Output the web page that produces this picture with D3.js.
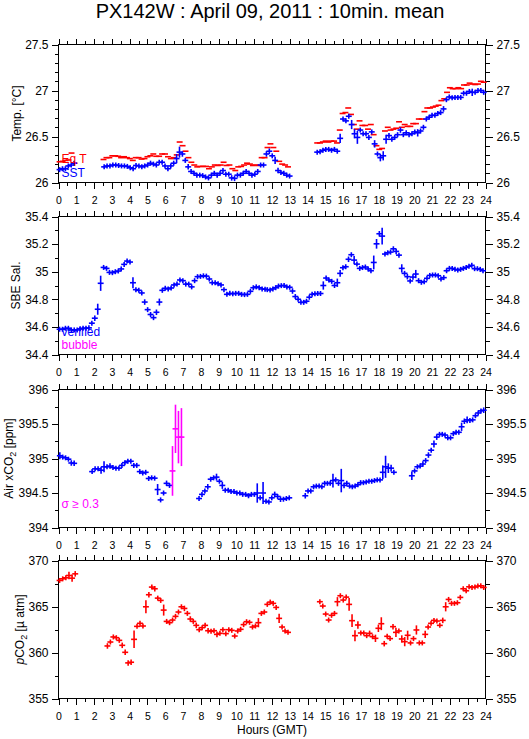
<!DOCTYPE html>
<html><head><meta charset="utf-8">
<script src="https://cdn.jsdelivr.net/npm/d3@7/dist/d3.min.js"></script>
<style>
body{margin:0;background:#fff}
svg{display:block}
text{font-family:"Liberation Sans",Arial,Helvetica,sans-serif}
</style>
</head><body>
<svg id="chart" width="529" height="739"></svg>
<script>
// ---------- tick labels ----------
const hourTicks = d3.range(0, 25, 1);
const halfHourTicks = d3.range(0.5, 24, 1);
const tempTicks = [26, 26.5, 27, 27.5];
const salTicks = [34.4, 34.6, 34.8, 35, 35.2, 35.4];
const airTicks = [394, 394.5, 395, 395.5, 396];
const pco2Ticks = [355, 360, 365, 370];

// ---------- data (10 min means); a point is value or [value, sigma] ----------
const sstA = [26.14, 26.15, 26.15, 26.18, 26.19, 26.21];
const sstB = [26.17,26.18,26.18,26.19,26.19,26.185,26.18,26.18,26.175,26.16,
 26.15,26.185,26.18,26.17,26.18,26.19,26.21,26.20,26.19,26.22,
 26.22,26.18,26.15,26.18,26.21,[26.26,.05],[26.33,.06],[26.31,.03],26.24,[26.17,.03],
 26.12,26.10,26.08,26.08,26.075,26.06,26.05,26.08,26.10,26.08,
 26.10,26.13,26.09,26.09,[26.05,.03],[26.045,.03],26.08,26.08,26.10,26.12,
 26.10,26.08,26.09,26.12,26.19,26.19,
 [26.31,.03],[26.34,.03],26.29,[26.24,.04],[26.13,.03],26.11,26.10,26.08,26.07];
const sstC = [26.33,26.335,26.35,26.36,26.36,26.35,26.36,26.34,[26.48,.05],26.69,
 26.67,26.72,[26.63,.05],[26.53,.05],[26.49,.07],26.57,26.53,26.53,26.49,26.55,
 [26.42,.04],26.31,[26.27,.04],[26.29,.05],[26.47,.05],26.51,26.47,26.49,26.52,[26.57,.03],
 26.52,26.54,26.52,26.53,26.55,[26.54,.04],26.56,26.60,26.69,26.71,
 26.73,26.73,26.75,26.76,[26.80,.03],26.90,26.93,26.92,26.925,26.925,
 26.925,26.97,26.97,26.99,[26.98,.04],26.98,27.00,27.00,26.98];
const sstSpans = [[0.06, 0.88], [2.566, 12.99], [14.54, 23.9]];

const eqA = [26.225, 26.23, 26.24, 26.245, 26.32, 26.21];
const eqB = [26.25,26.27,26.27,26.29,26.29,26.285,26.27,26.28,26.27,26.26,
 26.24,26.27,26.27,26.255,26.26,26.28,26.29,26.31,26.285,26.285,
 26.31,26.31,26.28,26.26,26.27,26.30,26.44,26.40,26.34,26.27,
 26.22,26.19,26.17,26.175,26.175,26.175,26.15,26.17,26.19,26.185,
 26.19,26.22,26.185,26.19,26.15,26.13,26.17,26.175,26.19,26.21,
 26.20,26.185,26.19,26.185,26.27,26.27,26.38,26.42,
 26.38,26.34,26.23,26.20,26.19,26.17];
const eqC = [26.43,26.43,26.44,26.45,26.44,26.45,26.45,26.43,26.57,26.75,
 26.76,26.81,26.74,26.63,26.58,26.67,26.62,26.62,26.58,26.63,
 26.52,26.40,26.36,26.37,26.56,26.60,26.57,26.58,26.59,26.66,
 26.60,26.63,26.61,26.61,26.64,26.64,26.69,26.69,26.77,26.81,
 26.81,26.82,26.83,26.84,26.89,26.91,26.98,27.03,27.02,27.02,
 27.03,27.02,27.06,27.06,27.08,27.07,27.065,27.07,27.10,27.09];
const eqSpans = [[0.06, 0.9], [2.53, 12.9], [14.54, 23.9]];

const salA = [34.583,34.583,34.59,34.59,34.578,34.578,34.578,34.586,34.59,34.59,
 34.593,[34.627,.015],[34.663,.02],[34.728,.04],[34.916,.055],[35.031,.015],35.024,34.995,34.993,35.0,
 35.005,35.02,35.053,35.077,35.07,[34.92,.04],34.87,34.865,34.846,[34.78,.02],
 [34.725,.015],34.69,34.667,[34.706,.02],[34.78,.025],34.865,34.88,34.875,34.882,34.904,
 34.91,34.94,34.935,34.91,34.91,34.89,[34.935,.015],34.964,34.966,34.97,
 34.968,34.947,34.92,34.92,34.913,34.904,34.87,34.836,34.843,34.84,
 34.843,34.843,34.836,34.834,34.836,34.858,34.884,34.89,34.884,34.875,34.873];
const salB = [34.87,34.868,34.875,34.884,34.896,34.899,34.9,34.89,34.887,[34.86,.02],
 34.82,34.80,34.778,34.778,34.786,34.815,34.836,34.84,34.842,34.842,
 [34.9,.03],34.954,34.94,34.93,34.9,[34.92,.03],[34.988,.025],35.029,35.036,[35.09,.02],
 35.123,[35.084,.03],35.055,35.024,35.03,35.034,35.02,35.007,[35.067,.05],[35.202,.035],
 [35.275,.02],[35.258,.06],35.128,35.137,35.142,35.166,[35.147,.02],35.12,[35.024,.03],34.988,
 [34.964,.02],34.933,[34.961,.02],[34.983,.03],34.935,34.923,34.928,34.952,34.973,34.976,
 34.976,34.971,[34.947,.015],[34.957,.015],35.007,35.024,35.024,35.017,35.012,35.017,
 35.024,35.031,35.039,35.046,35.022,35.022,35.017,35.007];
const salSpans = [[0.06, 11.61], [11.735, 23.86]];

const airA = [[395.04,.05],395.02,395.01,394.99,[394.935,.04],[394.93,.04]];
const airB = [394.81,394.85,394.85,[394.83,.05],[394.88,.08],394.88,[394.89,.04],394.87,394.86,394.86,
 394.9,394.94,[394.96,.03],394.96,394.9,394.9,394.81,394.79,394.80,394.71,
 394.72,394.715,[394.55,.08],[394.40,.03],394.50,[394.64,.04],394.61,[394.82,.36],[395.43,.35],[395.31,.38],[395.31,.42]];
const airC = [394.42,394.48,394.53,[394.59,.04],394.70,394.72,[394.73,.05],394.67,[394.61,.05],394.54,
 394.54,394.52,394.52,394.50,394.50,394.48,394.48,394.46,394.48,394.48,
 [394.50,.14],394.43,[394.50,.16],394.38,394.37,394.43,[394.48,.04],394.45,[394.41,.04],394.41,394.42,394.43];
const airD = [[394.46,.04],394.53,394.53,394.59,394.60,394.60,394.59,394.64,394.64,394.64,
 [394.68,.1],394.69,394.64,[394.68,.17],[394.61,.04],394.64,394.60,394.59,394.60,394.62,
 394.65,394.65,394.66,394.67,394.67,394.68,394.69,394.69,[394.80,.1],[394.88,.16],
 [394.86,.07],[394.86,.05],394.80];
const airE = [[394.75,.06],394.82,394.88,394.89,[394.92,.04],394.97,[395.05,.04],395.12,[395.21,.05],[395.31,.04],
 395.35,395.35,395.34,395.30,395.30,395.36,395.38,395.38,[395.46,.06],[395.54,.04],
 [395.56,.05],395.55,395.56,395.62,395.66,395.69,[395.70,.04]];
const airSpans = [[0.075, 0.88], [1.89, 6.91], [7.9, 12.97], [13.87, 18.85], [19.86, 23.9]];

const pA = [367.83, 368.01, 368.12, [368.37,.4], [368.08,.4], [368.55,.3]];
const pB = [[360.71,.3],361.14,361.69,361.61,361.32,[360.78,.3],[360.02,.3],[358.87,.3],[358.94,.3],[361.43,.95],
 362.84,363.17,362.88,[364.97,.7],[366.28,.3],367.11,[366.93,.3],365.91,365.66,[364.61,.6],
 363.38,363.24,363.53,363.93,364.40,364.97,[364.79,.3],364.25,[363.64,.3],363.38,
 [362.95,.3],362.48,362.70,362.95,[362.37,.3],362.30,362.37,[361.97,.3],362.08,362.48,
 362.05,362.48,362.41,361.79,362.34,362.52,363.03,363.35,363.28,362.77,
 362.88,[363.24,.5],364.25,364.40,365.23,
 365.48,365.34,364.90,[363.71,.5],362.77,362.34,362.19];
const pC = [365.52,365.05,364.18,363.53,364.04,364.25,[365.52,.5],366.17,365.70,366.02,
 [365.23,.7],[363.46,.7],[361.83,.6],[362.99,.4],362.12,362.12,361.83,[362.08,.3],361.72,[361.54,.4],
 [362.63,.4],[363.13,.7],[360.96,.3],361.76,361.51,[362.81,.3],[362.19,.5],362.34,[361.47,.4],[361.18,.5],
 [361.87,.5],361.04,361.51,[362.45,.5],361.04,361.04,[361.97,.4],362.77,363.17,363.49,
 363.42,362.95,[363.49,.3],[364.97,.5],365.77,365.34,365.34,365.41,365.99,366.93,
 366.71,367.14,367.07,367.11,367.22,367.25,367.07];
const pSpans = [[0.06, 0.94], [2.75, 12.9], [14.69, 23.9]];

// ---------- layout ----------
const svg = d3.select("#chart");
const X0 = 58.5, X1 = 485.5;
const x = d3.scaleLinear().domain([0, 24]).range([X0, X1]);
const BLUE = "#0000ff", RED = "#ff0000", MAG = "#ff00ff";
const HW = 1 / 6;
const MINH = 2.5;

svg.append("text").attr("x", 270).attr("y", 17.5).attr("text-anchor", "middle")
  .attr("font-size", 20).text("PX142W : April 09, 2011 : 10min. mean");

function fmt(v) { return String(+v.toFixed(2)); }

function panel(top, bottom, domain, major, minorStep) {
  const y = d3.scaleLinear().domain(domain).range([bottom, top]);
  const g = svg.append("g");
  const minor = d3.range(domain[0], domain[1] + 1e-9, minorStep).filter(v => !major.some(m => Math.abs(m - v) < 1e-6));
  const xb = g.append("g").attr("transform", `translate(0,${bottom})`)
    .call(d3.axisBottom(x).tickValues(hourTicks).tickSize(6).tickPadding(8.2).tickSizeOuter(0).tickFormat(d3.format("d")));
  xb.selectAll("text").attr("font-size", 10.5).attr("font-family", "Liberation Sans, Arial, sans-serif");
  g.append("g").attr("transform", `translate(0,${bottom})`)
    .call(d3.axisBottom(x).tickValues(halfHourTicks).tickSize(3.5).tickSizeOuter(0).tickFormat(""));
  g.append("g").attr("transform", `translate(0,${top})`)
    .call(d3.axisTop(x).tickValues(hourTicks).tickSize(6).tickSizeOuter(0).tickFormat(""));
  g.append("g").attr("transform", `translate(0,${top})`)
    .call(d3.axisTop(x).tickValues(halfHourTicks).tickSize(3.5).tickSizeOuter(0).tickFormat(""));
  const yl = g.append("g").attr("transform", `translate(${X0},0)`)
    .call(d3.axisLeft(y).tickValues(major).tickSize(7).tickPadding(3).tickSizeOuter(0).tickFormat(fmt));
  g.append("g").attr("transform", `translate(${X0},0)`)
    .call(d3.axisLeft(y).tickValues(minor).tickSize(4).tickSizeOuter(0).tickFormat(""));
  const yr = g.append("g").attr("transform", `translate(${X1},0)`)
    .call(d3.axisRight(y).tickValues(major).tickSize(7).tickPadding(4).tickSizeOuter(0).tickFormat(fmt));
  g.append("g").attr("transform", `translate(${X1},0)`)
    .call(d3.axisRight(y).tickValues(minor).tickSize(4).tickSizeOuter(0).tickFormat(""));
  [yl, yr].forEach(a => a.selectAll("text").attr("font-size", 12).attr("font-family", "Liberation Sans, Arial, sans-serif"));
  g.selectAll(".domain").remove();
  g.selectAll(".tick line").attr("stroke", "#000").attr("shape-rendering", "crispEdges");
  g.selectAll(".tick text").attr("fill", "#000");
  g.append("rect").attr("x", X0).attr("y", top).attr("width", X1 - X0).attr("height", bottom - top)
    .attr("fill", "none").attr("stroke", "#000").attr("shape-rendering", "crispEdges");
  return { y, g, top, bottom };
}

function points(segs, spans) {
  const out = [];
  segs.forEach((vals, k) => {
    const [t0, t1] = spans[k];
    const n = vals.length;
    vals.forEach((p, i) => {
      const v = Array.isArray(p) ? p[0] : p;
      const s = Array.isArray(p) ? p[1] : 0;
      out.push({ t: n > 1 ? t0 + (t1 - t0) * i / (n - 1) : t0, v, s });
    });
  });
  return out;
}

function drawCrosses(P, pts, colorFn, dashOnly) {
  const g = P.g.append("g").attr("stroke-width", 1.6);
  pts.forEach(d => {
    const c = colorFn(d);
    g.append("line").attr("x1", x(d.t - HW)).attr("x2", x(d.t + HW))
      .attr("y1", P.y(d.v)).attr("y2", P.y(d.v)).attr("stroke", c);
    if (!dashOnly) {
      const h = Math.max(MINH, Math.abs(P.y(d.v) - P.y(d.v + d.s)));
      g.append("line").attr("x1", x(d.t)).attr("x2", x(d.t))
        .attr("y1", P.y(d.v) - h).attr("y2", P.y(d.v) + h).attr("stroke", c);
    }
  });
}

function yTitle(P, xb, parts) {
  const g = svg.append("g").attr("transform", `translate(${xb},${(P.top + P.bottom) / 2}) rotate(-90)`);
  const t = g.append("text").attr("font-size", 12).attr("x", 0).attr("y", 0).attr("text-anchor", "middle");
  parts.forEach(p => {
    const s = t.append("tspan").text(p.t);
    if (p.sub) s.attr("font-size", 9).attr("baseline-shift", "-3");
    if (p.it) s.attr("font-style", "italic");
  });
}

function legend(xp, yp, txt, color) {
  svg.append("text").attr("x", xp).attr("y", yp).attr("font-size", 12).attr("fill", color).text(txt);
}

const P1 = panel(44.5, 182.5, [26, 27.5], tempTicks, 0.1);
drawCrosses(P1, points([eqA, eqB, eqC], eqSpans), () => RED, true);
drawCrosses(P1, points([sstA, sstB, sstC], sstSpans), () => BLUE, false);
yTitle(P1, 20.5, [{ t: "Temp. [°C]" }]);
legend(61.5, 163, "Eq  T", RED);
legend(61.5, 177, "SST", BLUE);

const P2 = panel(216.5, 354.5, [34.4, 35.4], salTicks, 0.1);
drawCrosses(P2, points([salA, salB], salSpans), () => BLUE, false);
yTitle(P2, 20, [{ t: "SBE Sal." }]);
legend(61.5, 336, "verified", BLUE);
legend(61.5, 349, "bubble", MAG);

const P3 = panel(389.5, 527.5, [394, 396], airTicks, 0.25);
drawCrosses(P3, points([airA, airB, airC, airD, airE], airSpans), d => d.s >= 0.3 ? MAG : BLUE, false);
yTitle(P3, 12.7, [{ t: "Air xCO" }, { t: "2", sub: true }, { t: " [ppm]" }]);
legend(61.5, 508, "σ ≥ 0.3", MAG);

const P4 = panel(560.5, 698.5, [355, 370], pco2Ticks, 2.5);
drawCrosses(P4, points([pA, pB, pC], pSpans), () => RED, false);
yTitle(P4, 24, [{ t: "p", it: true }, { t: "CO" }, { t: "2", sub: true }, { t: " [µ atm]" }]);

svg.append("text").attr("x", 272).attr("y", 734).attr("text-anchor", "middle")
  .attr("font-size", 12).text("Hours (GMT)");
</script>
</body></html>
